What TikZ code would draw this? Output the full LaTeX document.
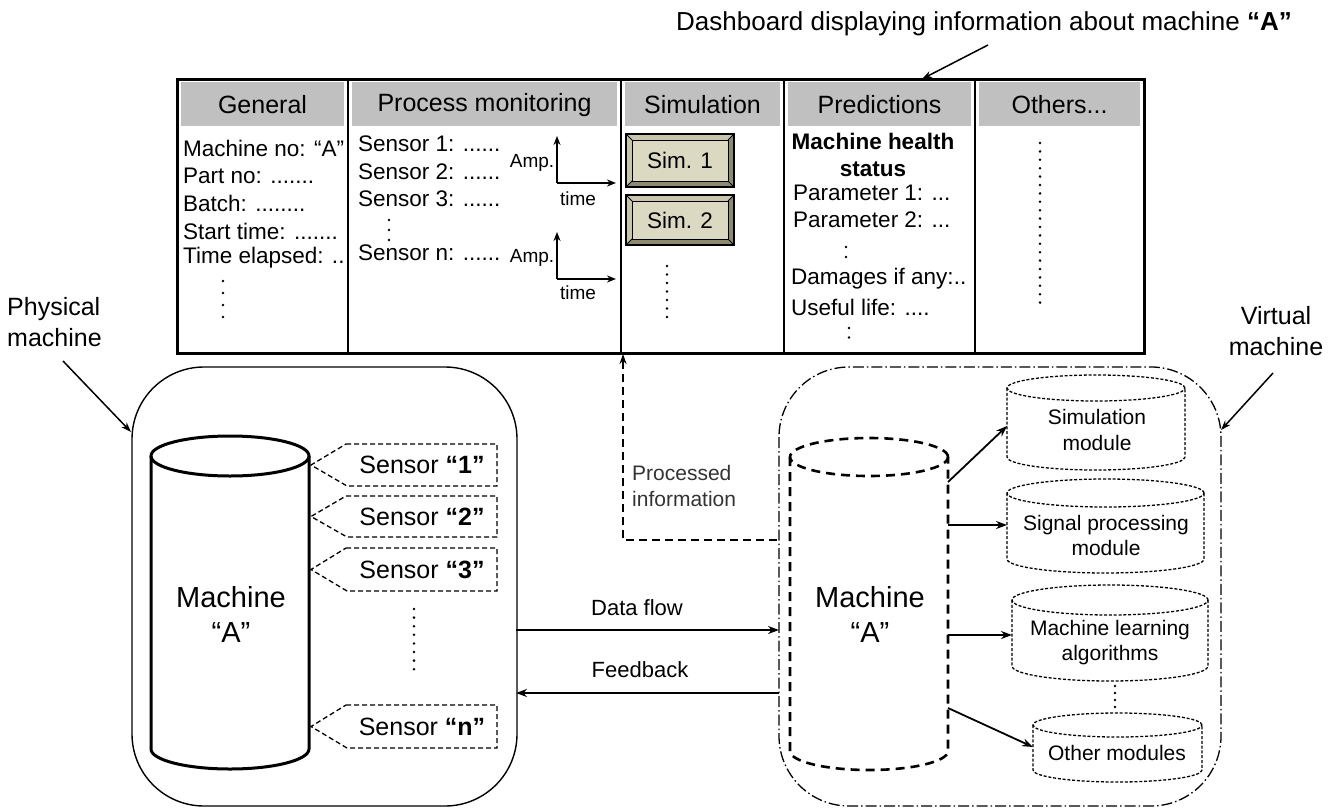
\documentclass[tikz,border=0pt]{standalone}
\usepackage{fontspec}
\setmainfont{Liberation Sans}
\usetikzlibrary{arrows.meta}

% vertical column of dots: x, y from, y to, spacing
\newcommand\dotcol[4]{\draw[line width=2.8pt, line cap=round, dash pattern=on 0pt off #4pt] (#1,#2) -- (#1,#3);}

% upright cylinder: style, x left, x right, y top centre, y bottom centre, ellipse half-height
\newcommand\cylinderat[6]{%
  \pgfmathsetmacro\cylcx{(#2+#3)/2}%
  \pgfmathsetmacro\cylrx{(#3-#2)/2}%
  \draw[#1] (\cylcx,#4) ellipse [x radius=\cylrx pt, y radius=#6pt];
  \draw[#1] (#2,#4) -- (#2,#5) arc [start angle=180, end angle=360, x radius=\cylrx pt, y radius=#6pt] -- (#3,#4);
}

% sensor call-out: name, y top, y bottom, label
\newcommand\sensorbox[4]{%
  \pgfmathsetmacro\sensmid{(#2+#3)/2}%
  \draw[sensorline] (346,#2) -- (497,#2) -- (497,#3) -- (347,#3) -- (311,\sensmid) -- cycle;
  \node[sens] (#1) at (422,\sensmid) {#4};
}

% bevelled button: name, x1, y1, x2, y2, label
\newcommand\simbutton[6]{%
  \fill[btndark] (#2,#3) rectangle (#4,#5);
  \fill[btnlight] (#2,#3) -- (#4,#3) -- (#4-6,#3+6) -- (#2+6,#3+6) -- (#2+6,#5-6) -- (#2,#5) -- cycle;
  \draw[line width=1.3pt] (#2,#3) rectangle (#4,#5);
  \draw[line width=1pt, fill=btnface] (#2+6,#3+6) rectangle (#4-6,#5-6);
  \draw[line width=0.8pt] (#2,#3) -- (#2+6,#3+6) (#4,#3) -- (#4-6,#3+6) (#2,#5) -- (#2+6,#5-6) (#4,#5) -- (#4-6,#5-6);
  \node[body, anchor=center] (#1) at ({(#2+#4)/2},{(#3+#5)/2}) {#6};
}

\definecolor{headgray}{HTML}{C0C0C0}
\definecolor{btnface}{HTML}{DCD9C3}
\definecolor{btnlight}{HTML}{C9C5AC}
\definecolor{btndark}{HTML}{8E8A70}
\definecolor{proctext}{HTML}{333333}

\tikzset{
  body/.style={font=\fontsize{22.5}{27}\selectfont, inner sep=0pt, anchor=west},
  head/.style={font=\fontsize{25}{30}\selectfont, inner sep=0pt},
  axlbl/.style={font=\fontsize{19}{22}\selectfont, inner sep=0pt},
  big/.style={font=\fontsize{29}{35}\selectfont, align=center, inner sep=0pt},
  lbl/.style={font=\fontsize{25}{31}\selectfont, inner sep=0pt},
  sens/.style={font=\fontsize{25}{30}\selectfont, inner sep=0pt},
  modtxt/.style={font=\fontsize{21}{25.5}\selectfont, align=center, inner sep=0pt},
  flowtxt/.style={font=\fontsize{22}{26}\selectfont, inner sep=0pt},
  arr/.style={line width=1.8pt, -{Stealth[length=11pt,width=8pt]}},
  thinarr/.style={line width=1.5pt, -{Stealth[length=10pt,width=7pt]}},
  axisline/.style={line width=1.8pt, -{Stealth[length=9pt,width=7pt]}},
  sensorline/.style={line width=1.3pt, dash pattern=on 5pt off 3pt},
  physcyl/.style={line width=3pt},
  virtcyl/.style={line width=2.6pt, dash pattern=on 9pt off 6pt},
  modcyl/.style={line width=1.3pt, dash pattern=on 3pt off 1.8pt},
  frameline/.style={line width=1.3pt, dash pattern=on 11pt off 3pt on 1.5pt off 3pt},
  procline/.style={line width=1.8pt, dash pattern=on 8pt off 5pt},
}

\begin{document}
\begin{tikzpicture}[x=1pt, y=-1pt]
\path[use as bounding box] (0,0) rectangle (1337,808);

% ---------------- dashboard ----------------
\foreach \xa/\xb in {177/348, 348/621, 621/784, 784/975, 975/1144}
  \fill[headgray] (\xa+4,82) rectangle (\xb-4,126);
\draw[line width=2pt] (348,79) -- (348,353) (621,79) -- (621,353) (784,79) -- (784,353) (975,79) -- (975,353);
\draw[line width=3pt] (177,79) rectangle (1144,353);
\coordinate (dash-top) at (922,79);
\coordinate (dash-in) at (623,354);

\node[head] (h-gen) at (262.5,105) {General};
\node[head] (h-proc) at (484.5,105) {Process monitoring};
\node[head] (h-sim) at (702.5,105) {Simulation};
\node[head] (h-pred) at (879.5,105) {Predictions};
\node[head] (h-oth) at (1059.5,105) {Others...};

% General
\node[body] (g1) at (183,148) {Machine no: “A”};
\node[body] (g2) at (183,176) {Part no: .......};
\node[body] (g3) at (183,203) {Batch: ........};
\node[body] (g4) at (183,231) {Start time: .......};
\node[body] (g5) at (183,258) {Time elapsed: ..};
\dotcol{223}{281}{318}{12}

% Process monitoring
\node[body] (p1) at (358,144) {Sensor 1: ......};
\node[body] (p2) at (358,172) {Sensor 2: ......};
\node[body] (p3) at (358,199) {Sensor 3: ......};
\dotcol{389}{220}{241}{10}
\node[body] (pn) at (358,253) {Sensor n: ......};

\coordinate (ax1) at (557,183);
\draw[axisline] (ax1) -- ++(0,-47);
\draw[axisline] (ax1) -- ++(59,0);
\node[axlbl] (amp1) at (532,163) {Amp.};
\node[axlbl] (time1) at (578,199) {time};
\coordinate (ax2) at (557,279);
\draw[axisline] (ax2) -- ++(0,-47);
\draw[axisline] (ax2) -- ++(59,0);
\node[axlbl] (amp2) at (532,258) {Amp.};
\node[axlbl] (time2) at (578,293) {time};

% Simulation
\simbutton{sim1}{626}{134}{734}{187}{Sim. 1}
\simbutton{sim2}{626}{195}{734}{245}{Sim. 2}
\dotcol{667}{266}{318}{8.5}

% Predictions
\node[body, anchor=center, align=center, font=\fontsize{22.5}{27}\selectfont\bfseries] (mhs) at (873,154.5) {Machine health\\status};
\node[body] (par1) at (793,193) {Parameter 1: ...};
\node[body] (par2) at (793,220) {Parameter 2: ...};
\dotcol{846}{247}{267}{10}
\node[body] (dmg) at (791,279) {Damages if any:..};
\node[body] (life) at (791,307) {Useful life: ....};
\dotcol{849}{328}{347}{9.5}

% Others
\dotcol{1040}{143}{310}{8.4}

% dashboard caption
\node[inner sep=0pt, anchor=west, font=\fontsize{26}{31}\selectfont] (dash-cap) at (676,24) {Dashboard displaying information about machine \textbf{“A”}};
\coordinate (cap-arrow) at (988,45);
\draw[thinarr] (cap-arrow) -- (dash-top);

% ---------------- physical machine ----------------
\node[lbl, anchor=west, align=left] (phys-lbl) at (7,322.5) {Physical\\machine};
\draw[line width=1.4pt, rounded corners=72pt] (132,367) rectangle (517,806);
\coordinate (phys-tail) at (63,361);
\coordinate (phys-edge) at (131,432);
\draw[thinarr] (phys-tail) -- (phys-edge);

\cylinderat{physcyl}{151}{309}{456}{749}{20}
\node[big] (phys-m) at (231,614.5) {Machine\\“A”};

\sensorbox{s1}{444}{486}{Sensor \textbf{“1”}}
\sensorbox{s2}{496}{537}{Sensor \textbf{“2”}}
\sensorbox{s3}{548}{591}{Sensor \textbf{“3”}}
\dotcol{414}{609}{677}{8.6}
\sensorbox{sn}{705}{748}{Sensor \textbf{“n”}}

% ---------------- data flow / feedback ----------------
\coordinate (phys-r1) at (516,630);
\coordinate (virt-l1) at (779,630);
\coordinate (phys-r2) at (516,693);
\coordinate (virt-l2) at (779,693);
\draw[arr] (phys-r1) -- (virt-l1);
\node[flowtxt] (df) at (637,608) {Data flow};
\draw[arr] (virt-l2) -- (phys-r2);
\node[flowtxt] (fb) at (640,670) {Feedback};

% ---------------- virtual machine ----------------
\draw[frameline, rounded corners=70pt] (779,367) rectangle (1221,806);
\node[lbl, align=center] (virt-lbl) at (1276,331.5) {Virtual\\machine};
\coordinate (virt-tail) at (1273,373);
\coordinate (virt-edge) at (1221,430);
\draw[thinarr] (virt-tail) -- (virt-edge);

\cylinderat{virtcyl}{790}{948}{457}{751}{19}
\node[big] (virt-m) at (870,614.5) {Machine\\“A”};

% processed information back to the dashboard
\coordinate (pi-start) at (777,540);
\coordinate (pi-corner) at (623,540);
\draw[procline, -{Stealth[length=10pt,width=7pt]}] (pi-start) -- (pi-corner) -- (dash-in);
\node[anchor=west, align=left, inner sep=0pt, text=proctext, font=\fontsize{21}{26}\selectfont] (pi-txt) at (632,486) {Processed\\information};

% modules
\cylinderat{modcyl}{1007}{1185}{388}{457}{13}
\node[modtxt] (m-sim) at (1097,430) {Simulation\\module};
\cylinderat{modcyl}{1007}{1204}{493}{559}{14}
\node[modtxt] (m-sig) at (1106,535.5) {Signal processing\\module};
\cylinderat{modcyl}{1012}{1208}{600}{666}{15}
\node[modtxt] (m-ml) at (1110,642.5) {Machine learning\\algorithms};
\dotcol{1115}{686}{707}{7}
\cylinderat{modcyl}{1033}{1202}{725}{770}{12}
\node[modtxt] (m-oth) at (1117,753) {Other modules};

\coordinate (vo1) at (948,482);
\coordinate (vo2) at (948,525);
\coordinate (vo3) at (948,635);
\coordinate (vo4) at (948,708);
\coordinate (mi1) at (1007,426);
\coordinate (mi2) at (1007,525);
\coordinate (mi3) at (1012,635);
\coordinate (mi4) at (1033,747);
\draw[arr] (vo1) -- (mi1);
\draw[arr] (vo2) -- (mi2);
\draw[arr] (vo3) -- (mi3);
\draw[arr] (vo4) -- (mi4);
\end{tikzpicture}
\end{document}
